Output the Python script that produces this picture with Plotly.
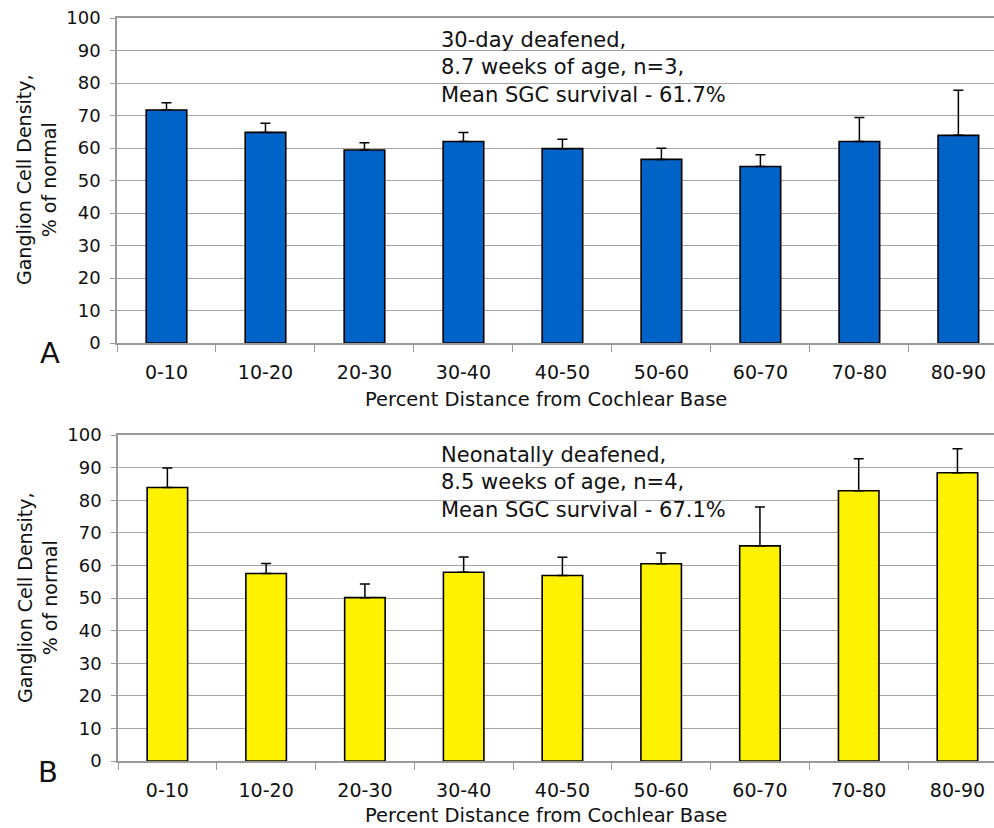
import plotly.graph_objects as go

categories = ["0-10", "10-20", "20-30", "30-40", "40-50", "50-60", "60-70", "70-80", "80-90"]

# Panel A: 30-day deafened
a_values = [71.7, 64.8, 59.4, 62.0, 59.8, 56.5, 54.3, 62.0, 63.9]
a_err_up = [2.2, 2.8, 2.2, 2.8, 2.9, 3.4, 3.6, 7.4, 13.9]

# Panel B: Neonatally deafened
b_values = [83.9, 57.5, 50.1, 57.9, 56.9, 60.5, 66.0, 82.9, 88.4]
b_err_up = [6.0, 3.1, 4.2, 4.7, 5.6, 3.3, 11.9, 9.8, 7.4]

y_ticks = [0, 10, 20, 30, 40, 50, 60, 70, 80, 90, 100]

a_note = "30-day deafened,<br>8.7 weeks of age, n=3,<br>Mean SGC survival - 61.7%"
b_note = "Neonatally deafened,<br>8.5 weeks of age, n=4,<br>Mean SGC survival - 67.1%"
x_title = "Percent Distance from Cochlear Base"
y_title = "Ganglion Cell Density,<br>% of normal"

W, H = 994, 828
FONT = "DejaVu Sans"
BLUE = "#0063C8"
YELLOW = "#FFF200"
GRID = "#a6a6a6"
AXIS = "#9a9a9a"


def px_x(p):
    return p / W


def px_y(p):
    return 1 - p / H


fig = go.Figure()

for vals, errs, color, xa, ya in [
    (a_values, a_err_up, BLUE, "x", "y"),
    (b_values, b_err_up, YELLOW, "x2", "y2"),
]:
    fig.add_trace(go.Bar(
        x=categories, y=vals, xaxis=xa, yaxis=ya,
        width=0.41,
        marker=dict(color=color, line=dict(color="black", width=1.6)),
        error_y=dict(type="data", symmetric=False, array=errs,
                     arrayminus=[0] * len(errs), color="black",
                     thickness=1.5, width=5),
        showlegend=False,
    ))

common_x = dict(
    type="category", tickson="boundaries", ticks="outside", ticklen=7,
    tickcolor=AXIS, tickwidth=1, showline=True, linecolor=AXIS, linewidth=2,
    mirror=True, showgrid=False, automargin=False,
    tickfont=dict(family=FONT, size=19, color="#111"),
    ticklabelstandoff=11,
)
common_y = dict(
    range=[0, 100], tickvals=y_ticks, ticks="outside", ticklen=5,
    tickcolor=AXIS, showline=True, linecolor=AXIS, linewidth=1.5,
    showgrid=True, gridcolor=GRID, gridwidth=1, zeroline=False,
    automargin=False,
    tickfont=dict(family=FONT, size=18, color="#111"),
    ticklabelstandoff=6,
)

fig.update_layout(
    width=W, height=H,
    margin=dict(l=0, r=0, t=0, b=0, pad=0, autoexpand=False),
    paper_bgcolor="white", plot_bgcolor="white",
    font=dict(family=FONT, color="#111"),
    bargap=0.5,
    xaxis=dict(common_x, domain=[px_x(117), 1], range=[-0.5, 8.36], anchor="y"),
    yaxis=dict(common_y, domain=[px_y(343), px_y(18)], anchor="x"),
    xaxis2=dict(common_x, domain=[px_x(118), 1], range=[-0.5, 8.37], anchor="y2"),
    yaxis2=dict(common_y, domain=[px_y(761), px_y(435)], anchor="x2"),
)

annotations = []
for note, ytop in [(a_note, 26), (b_note, 441)]:
    annotations.append(dict(
        text=note, xref="paper", yref="paper", x=px_x(439), y=px_y(ytop),
        xanchor="left", yanchor="top", align="left", showarrow=False,
        font=dict(family=FONT, size=21, color="#111"),
    ))
for yc in [400, 815]:
    annotations.append(dict(
        text=x_title, xref="paper", yref="paper", x=px_x(546), y=px_y(yc),
        xanchor="center", yanchor="middle", showarrow=False,
        font=dict(family=FONT, size=19.5, color="#111"),
    ))
for yc in [180, 598]:
    annotations.append(dict(
        text=y_title, xref="paper", yref="paper", x=px_x(37), y=px_y(yc),
        xanchor="center", yanchor="middle", showarrow=False, textangle=-90,
        font=dict(family=FONT, size=19, color="#111"),
    ))
for lab, xc, yc in [("A", 50, 353), ("B", 48, 772)]:
    annotations.append(dict(
        text=lab, xref="paper", yref="paper", x=px_x(xc), y=px_y(yc),
        xanchor="center", yanchor="middle", showarrow=False,
        font=dict(family=FONT, size=29, color="#111"),
    ))
fig.update_layout(annotations=annotations)

fig.write_html(
    "out.html",
    config={"displayModeBar": False},
    post_script="document.body.style.margin='0';document.body.style.overflow='hidden';",
)
